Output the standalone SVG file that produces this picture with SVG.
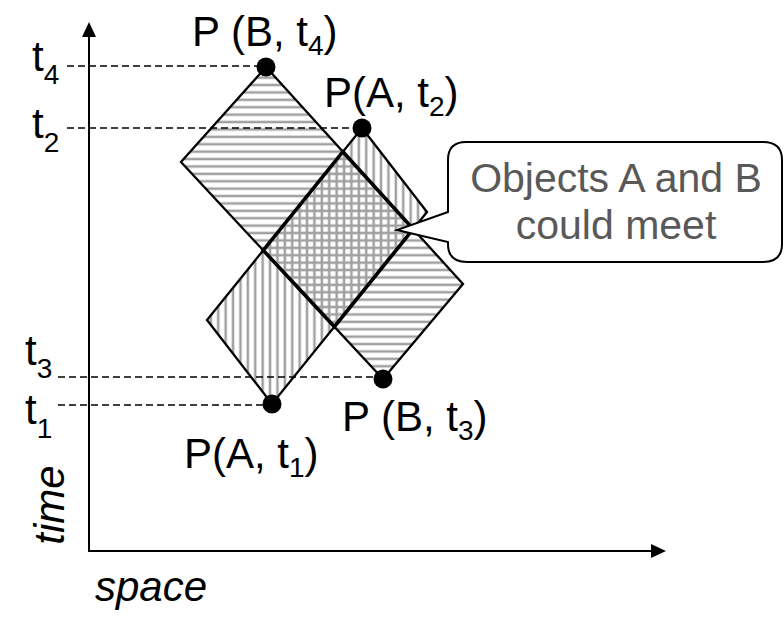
<svg xmlns="http://www.w3.org/2000/svg" width="784" height="618" viewBox="0 0 784 618">
<style>
text{font-family:"Liberation Sans",Arial,sans-serif;fill:#000;}
.lbl{font-size:42px;}
.sub{font-size:28px;}
.it{font-style:italic;font-size:42px;}
.call{font-size:41px;fill:#595959;text-anchor:middle;}
.dash{stroke:#000;stroke-width:1.5;stroke-dasharray:7 4;fill:none;}
.edge{fill:none;stroke:#000;stroke-width:2.3;stroke-linejoin:miter;}
.thick{fill:none;stroke:#000;stroke-width:3.6;stroke-linejoin:miter;}
.axis{stroke:#000;stroke-width:2;fill:none;}
</style>
<defs>
<pattern id="hz" patternUnits="userSpaceOnUse" width="7.4" height="7.4">
<rect x="0" y="2.4" width="7.4" height="2.5" fill="#a0a0a0"/>
</pattern>
<pattern id="vt" patternUnits="userSpaceOnUse" width="7.4" height="7.4">
<rect x="2.4" y="0" width="2.5" height="7.4" fill="#a0a0a0"/>
</pattern>
</defs>
<rect width="784" height="618" fill="#fff"/>

<g id="axes">
<line class="axis" x1="89" y1="552" x2="89" y2="34"/>
<polygon points="89,22 82,37 96,37" fill="#000"/>
<line class="axis" x1="88" y1="551" x2="652" y2="551"/>
<polygon points="666,551 651,544 651,558" fill="#000"/>
<text class="it" transform="translate(64,505) rotate(-90)" text-anchor="middle">time</text>
<text class="it" x="95" y="601">space</text>
</g>

<g id="cone-B">
<polygon points="266,67 463,284 383,379 181,162" fill="url(#hz)"/>
</g>
<g id="cone-A">
<polygon points="362,128 427,212 272,404 207,320" fill="url(#vt)"/>
</g>

<g id="connectors">
<line class="dash" x1="67" y1="66" x2="260" y2="66"/>
<line class="dash" x1="67" y1="128" x2="356" y2="128"/>
<line class="dash" x1="58" y1="377" x2="377" y2="377"/>
<line class="dash" x1="58" y1="405" x2="266" y2="405"/>
</g>

<g id="outlines">
<polygon class="edge" points="266,67 463,284 383,379 181,162"/>
<polygon class="edge" points="362,128 427,212 272,404 207,320"/>
<polygon id="overlap" class="thick" points="342.9,151.7 413.2,229.1 334.4,326.7 263.2,250.3"/>
</g>

<g id="points">
<circle cx="266" cy="67" r="9.5" fill="#000"/>
<circle cx="362" cy="128" r="9.5" fill="#000"/>
<circle cx="383" cy="379" r="9.5" fill="#000"/>
<circle cx="272" cy="404" r="9.5" fill="#000"/>
</g>

<g id="time-labels">
<text class="lbl" x="32" y="71">t<tspan class="sub" dy="13">4</tspan></text>
<text class="lbl" x="32" y="138">t<tspan class="sub" dy="14">2</tspan></text>
<text class="lbl" x="25" y="365">t<tspan class="sub" dy="13">3</tspan></text>
<text class="lbl" x="25" y="424">t<tspan class="sub" dy="14">1</tspan></text>
</g>

<g id="point-labels">
<text class="lbl" x="192" y="46">P (B, t<tspan class="sub" dy="9">4</tspan><tspan dy="-9">)</tspan></text>
<text class="lbl" x="324" y="107">P(A, t<tspan class="sub" dy="9">2</tspan><tspan dy="-9">)</tspan></text>
<text class="lbl" x="342" y="431">P (B, t<tspan class="sub" dy="9">3</tspan><tspan dy="-9">)</tspan></text>
<text class="lbl" x="184" y="468">P(A, t<tspan class="sub" dy="9">1</tspan><tspan dy="-9">)</tspan></text>
</g>

<g id="callout">
<path d="M466,142 H763 Q782,142 782,160 V244 Q782,262 763,262 H467 Q448,262 448,244 L448,242 L397,230 L448,212 V160 Q448,142 466,142 Z" fill="#fff" stroke="#000" stroke-width="2"/>
<text class="call" x="616" y="192">Objects A and B</text>
<text class="call" x="616" y="239">could meet</text>
</g>
</svg>
